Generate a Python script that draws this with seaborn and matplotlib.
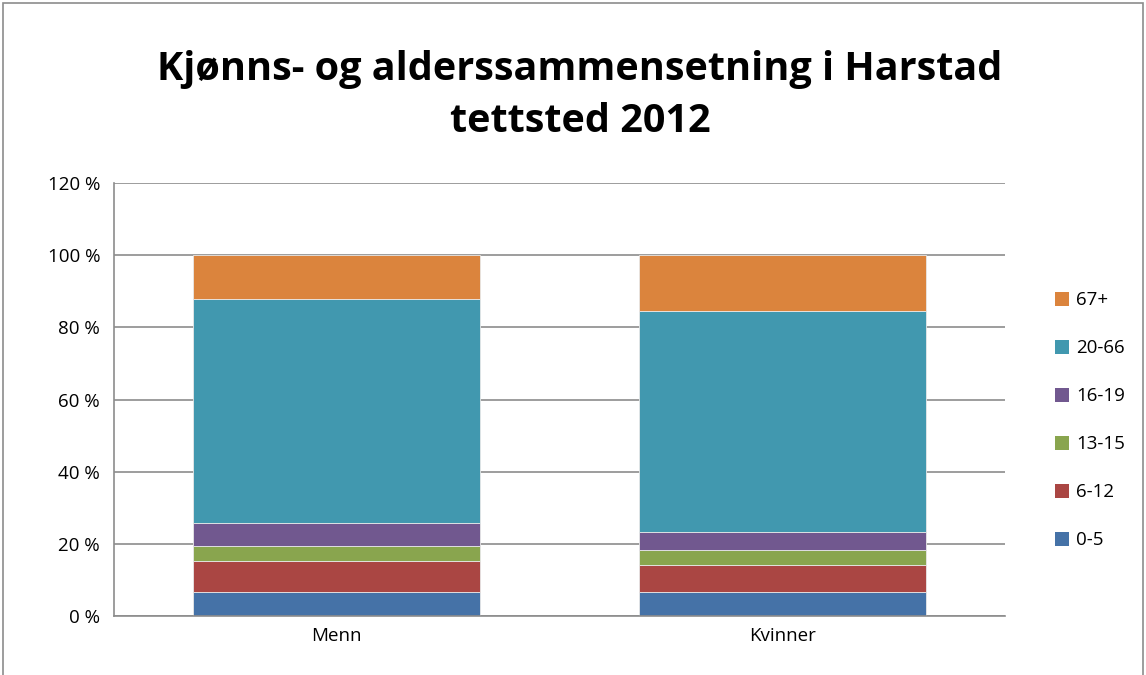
import matplotlib
matplotlib.use("Agg")
import matplotlib.pyplot as plt
from matplotlib.patches import Patch, Rectangle
import numpy as np
import pandas as pd
import seaborn as sns

# Andel (%) per aldersgruppe for hvert kjønn
kjonn = ["Menn", "Kvinner"]
aldersgrupper = ["0-5", "6-12", "13-15", "16-19", "20-66", "67+"]
menn = [6.7, 8.5, 4.1, 6.6, 62.0, 12.1]
kvinner = [6.7, 7.4, 4.1, 5.1, 61.1, 15.6]
farger = ["#4572A7", "#AA4643", "#89A54E", "#71588F", "#4198AF", "#DB843D"]
y_ticks = [0, 20, 40, 60, 80, 100, 120]

df = pd.DataFrame({"alder": aldersgrupper, "Menn": menn, "Kvinner": kvinner})

sns.set_theme(style="white", rc={"text.color": "black", "xtick.color": "black",
                                 "ytick.color": "black"})
plt.rcParams["font.family"] = ["Open Sans", "DejaVu Sans"]

fig = plt.figure(figsize=(11.46, 6.75), dpi=100)
ax = fig.add_axes([114 / 1146, 1 - 616 / 675, (1005 - 114) / 1146, (616 - 183) / 675])

bunn = np.zeros(len(kjonn))
for i, gruppe in enumerate(aldersgrupper):
    rad = df.iloc[i]
    verdier = np.array([rad["Menn"], rad["Kvinner"]])
    sns.barplot(x=kjonn, y=verdier, bottom=bunn, color=farger[i], width=0.645,
                edgecolor="#e8e8e8", linewidth=0.6, saturation=1, ax=ax)
    bunn = bunn + verdier

ax.set_ylim(0, 120)
ax.set_xlim(-0.5, 1.5)
ax.set_yticks(y_ticks)
ax.set_yticklabels([f"{t} %" for t in y_ticks], fontsize=13.5)
ax.tick_params(axis="x", labelsize=13.5, length=0, pad=8)
ax.tick_params(axis="y", length=0, pad=10)
ax.set_xlabel("")
ax.set_ylabel("")
ax.yaxis.grid(True, color="#8c8c8c", linewidth=1.2)
ax.set_axisbelow(True)
for s in ["top", "right"]:
    ax.spines[s].set_visible(False)
for s in ["left", "bottom"]:
    ax.spines[s].set_color("#8c8c8c")
    ax.spines[s].set_linewidth(1.2)

handles = [Patch(facecolor=farger[i], edgecolor="none", label=aldersgrupper[i])
           for i in range(len(aldersgrupper) - 1, -1, -1)]
fig.legend(handles=handles, loc="upper left", bbox_to_anchor=(1046 / 1146, 1 - 282 / 675),
           frameon=False, fontsize=13.5, handlelength=0.75, handleheight=0.75,
           handletextpad=0.35, labelspacing=1.6, borderpad=0)

fig.suptitle("Kjønns- og alderssammensetning i Harstad\ntettsted 2012",
             x=0.506, y=1 - 50 / 675, fontsize=28.5, fontweight="bold",
             linespacing=1.45, color="black")

# tynn ramme rundt diagrammet
fig.add_artist(Rectangle((3 / 1146, -0.05), 1140 / 1146, 1.05 - 3 / 675,
                         transform=fig.transFigure, fill=False, edgecolor="#8c8c8c",
                         linewidth=1.2))

fig.savefig("out.png", dpi=100)
